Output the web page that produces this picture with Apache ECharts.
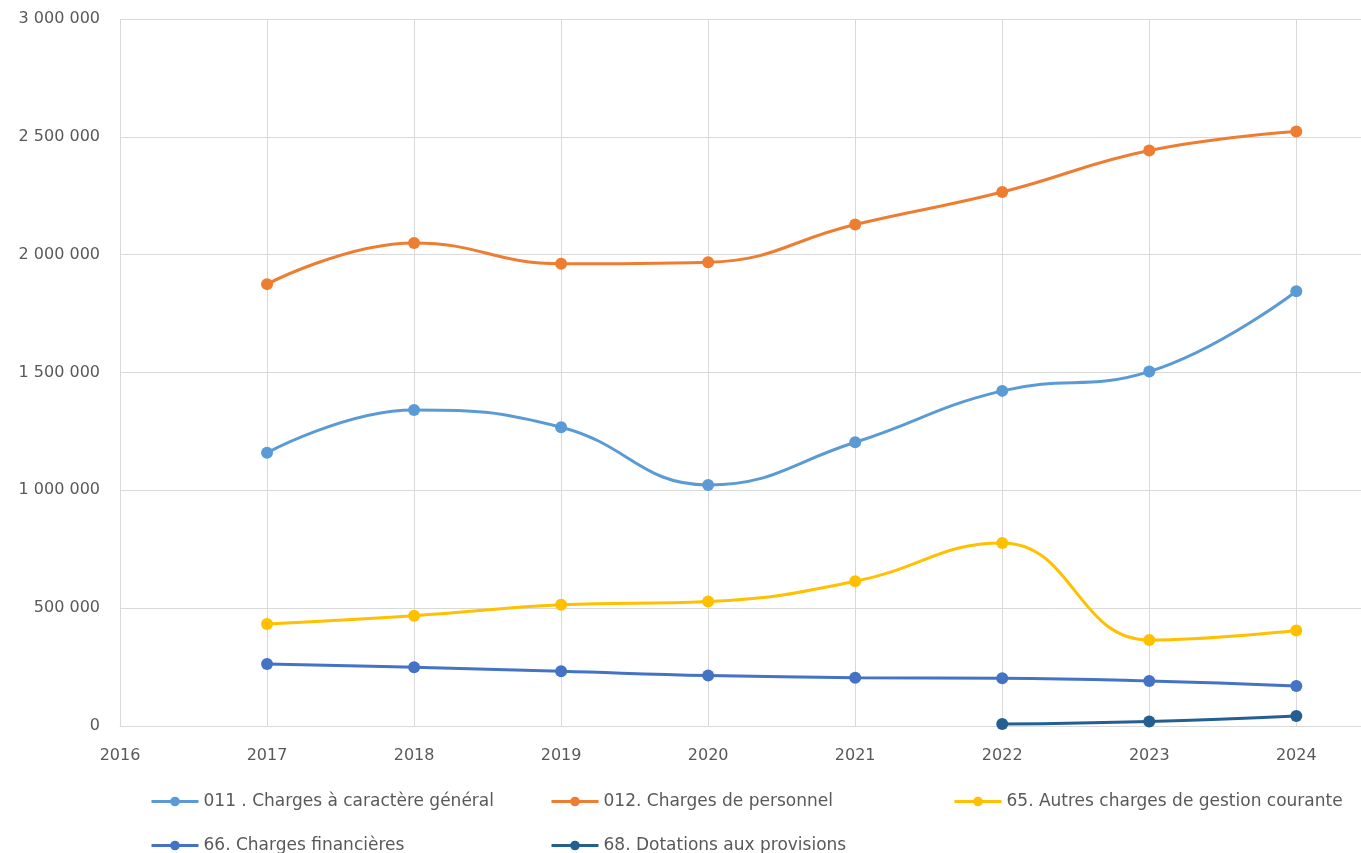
<!DOCTYPE html>
<html>
<head>
<meta charset="utf-8">
<script src="https://cdn.jsdelivr.net/npm/echarts@6/dist/echarts.min.js"></script>
<style>
html,body{margin:0;padding:0;background:#fff;}
#chart{width:1361px;height:853px;}
</style>
</head>
<body>
<div id="chart"></div>
<script>
const years = [2017, 2018, 2019, 2020, 2021, 2022, 2023, 2024];
const years68 = [2022, 2023, 2024];
const xTicks = [2016, 2017, 2018, 2019, 2020, 2021, 2022, 2023, 2024];
const seriesNames = [
  '011 . Charges à caractère général',
  '012. Charges de personnel',
  '65. Autres charges de gestion courante',
  '66. Charges financières',
  '68. Dotations aux provisions'
];
const charges011 = [1159000, 1341000, 1268000, 1023000, 1204000, 1422000, 1504000, 1845000];
const charges012 = [1875000, 2050000, 1961000, 1968000, 2128000, 2266000, 2442000, 2523000];
const charges65 = [433000, 468000, 514000, 528000, 614000, 777000, 365000, 405000];
const charges66 = [263000, 249000, 232000, 214000, 205000, 203000, 191000, 170000];
const charges68 = [8000, 19000, 42000];
const colors = ['#5B9BD5', '#ED7D31', '#FFC000', '#4472C4', '#255E91'];

const pairs = (xs, ys) => xs.map((x, i) => [x, ys[i]]);
const seriesData = [
  pairs(years, charges011),
  pairs(years, charges012),
  pairs(years, charges65),
  pairs(years, charges66),
  pairs(years68, charges68)
];

const fmt = v => String(v).replace(/\B(?=(\d{3})+(?!\d))/g, ' ');
const font = 'DejaVu Sans';

const legendPos = [
  {left: 145, top: 788},
  {left: 545, top: 788},
  {left: 948, top: 788},
  {left: 145, top: 832},
  {left: 545, top: 832}
];

const chart = echarts.init(document.getElementById('chart'), null, {renderer: 'canvas'});
chart.setOption({
  backgroundColor: '#ffffff',
  animation: false,
  color: colors,
  grid: {left: 120, right: 0, top: 19, bottom: 127, containLabel: false},
  legend: legendPos.map((p, i) => ({
    left: p.left, top: p.top,
    data: [seriesNames[i]],
    itemWidth: 47, itemHeight: 12, itemGap: 0,
    lineStyle: {width: 3},
    textStyle: {fontFamily: font, fontSize: 17, color: '#595959'}
  })),
  xAxis: {
    type: 'value',
    min: 2016, max: 2024.44,
    interval: 1,
    axisLine: {show: true, lineStyle: {color: '#d9d9d9', width: 1}},
    axisTick: {show: false, customValues: xTicks},
    axisLabel: {
      customValues: xTicks,
      color: '#595959', fontFamily: font, fontSize: 16, margin: 22,
      formatter: v => String(v)
    },
    splitLine: {show: true, lineStyle: {color: '#d9d9d9', width: 1}}
  },
  yAxis: {
    type: 'value',
    min: 0, max: 3000000, interval: 500000,
    axisLine: {show: false},
    axisTick: {show: false},
    axisLabel: {color: '#595959', fontFamily: font, fontSize: 16, margin: 20, formatter: fmt},
    splitLine: {show: true, lineStyle: {color: '#d9d9d9', width: 1}}
  },
  series: seriesData.map((d, i) => ({
    name: seriesNames[i],
    type: 'line',
    data: d,
    smooth: 0.45,
    symbol: 'circle',
    symbolSize: 12,
    lineStyle: {width: 3, color: colors[i]},
    itemStyle: {color: colors[i]},
    z: 10 - i
  }))
});
</script>
</body>
</html>
